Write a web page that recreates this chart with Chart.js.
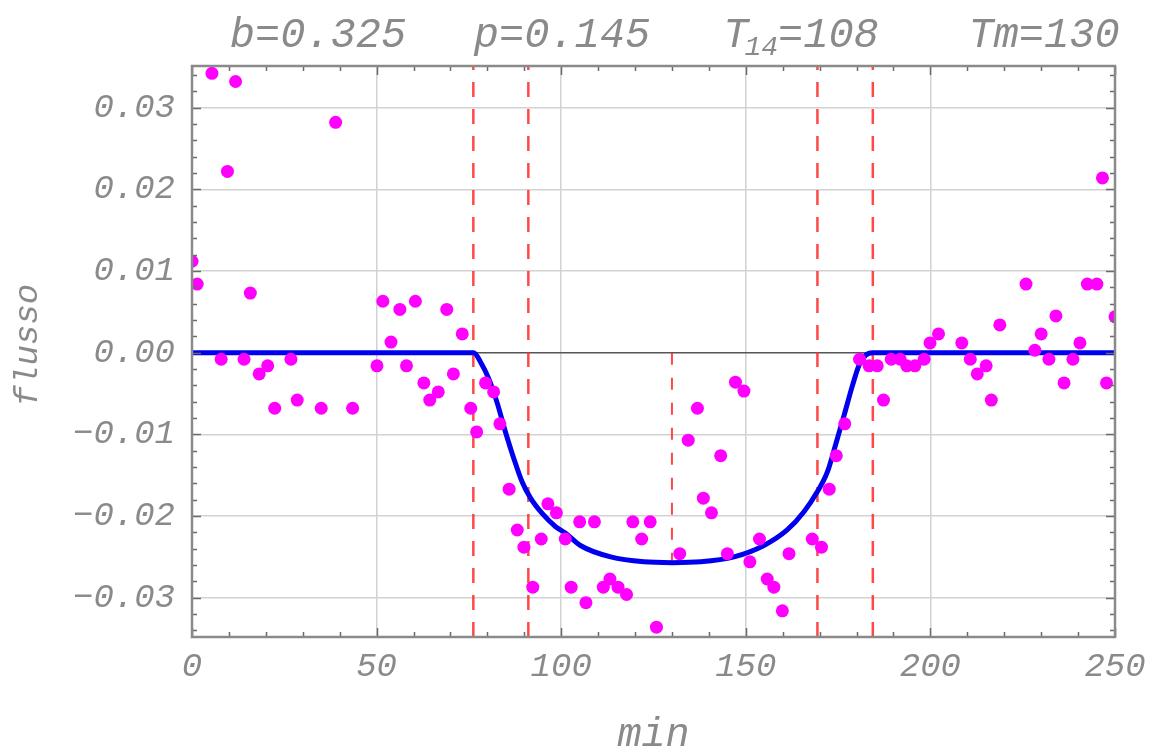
<!DOCTYPE html>
<html>
<head>
<meta charset="utf-8">
<script src="https://cdn.jsdelivr.net/npm/chart.js@4/dist/chart.umd.min.js"></script>
<style>
  html, body { margin: 0; padding: 0; background: #fff; }
  #wrap { width: 1150px; height: 749px; }
</style>
</head>
<body>
<div id="wrap"><canvas id="chart" width="1150" height="749"></canvas></div>
<script>
// observed flux points (minutes, relative flux)
const obsMin = [0.0, 1.4, 5.4, 7.9, 9.6, 11.8, 14.1, 15.8, 18.2, 20.5, 22.4, 26.8, 28.5, 35.0, 38.9, 43.5,
    50.1, 51.7, 53.9, 56.3, 58.1, 60.5, 62.8, 64.4, 66.7, 69.0, 70.8, 73.2, 75.5, 77.1, 79.5, 81.7,
    83.4, 85.9, 88.1, 89.9, 92.3, 94.6, 96.4, 98.7, 101.1, 102.7, 105.0, 106.7, 109.0, 111.4, 113.2,
    115.4, 117.7, 119.4, 121.8, 124.1, 125.8, 132.1, 134.4, 136.9, 138.5, 140.7, 143.2, 145.0, 147.2,
    149.5, 151.1, 153.7, 155.8, 157.6, 159.9, 161.7, 168.0, 170.5, 172.6, 174.5, 176.8, 180.8, 183.4,
    185.6, 187.3, 189.4, 191.8, 193.6, 195.8, 198.3, 199.9, 202.2, 208.5, 210.8, 212.7, 215.1, 216.5,
    218.8, 225.9, 228.3, 230.0, 232.1, 234.0, 236.2, 238.6, 240.5, 242.5, 245.1, 246.6, 247.7, 250.0];
const obsFlux = [0.0112, 0.0084, 0.0342, -0.0008, 0.0222, 0.0332, -0.0008, 0.0073, -0.0026, -0.0016,
    -0.0068, -0.0008, -0.0058, -0.0068, 0.0282, -0.0068,
    -0.0016, 0.0063, 0.0013, 0.0053, -0.0016, 0.0063, -0.0037, -0.0058, -0.0048, 0.0053, -0.0026,
    0.0023, -0.0068, -0.0097, -0.0037, -0.0048,
    -0.0087, -0.0167, -0.0217, -0.0238, -0.0287, -0.0228, -0.0185, -0.0196, -0.0228, -0.0287, -0.0207,
    -0.0306, -0.0207, -0.0287, -0.0277,
    -0.0287, -0.0296, -0.0207, -0.0228, -0.0207, -0.0336, -0.0246, -0.0107, -0.0068, -0.0178, -0.0196,
    -0.0126, -0.0246, -0.0036,
    -0.0047, -0.0256, -0.0228, -0.0277, -0.0287, -0.0316, -0.0246, -0.0228, -0.0238, -0.0167, -0.0126,
    -0.0087, -0.0008, -0.0016,
    -0.0016, -0.0058, -0.0008, -0.0008, -0.0016, -0.0016, -0.0008, 0.0012, 0.0023, 0.0012, -0.0008,
    -0.0026, -0.0016, -0.0058,
    0.0034, 0.0084, 0.0003, 0.0023, -0.0008, 0.0045, -0.0037, -0.0008, 0.0012, 0.0084, 0.0084, 0.0214,
    -0.0037, 0.0044];

// model curve
const modelMin = [0, 76.3, 78.1, 80.4, 82.7, 84.9, 87.2, 89.4, 91.7, 94.9, 98.5, 101.2, 105.2, 113.4,
    122.4, 130.1, 137.8, 146.8, 154.9, 161.2, 165.7, 169.4, 172.1, 174.3, 176.6, 178.9, 180.7, 182.5,
    184.3, 250];
const modelFlux = [0, 0, -0.0011, -0.0032, -0.0062, -0.0097, -0.0130, -0.0158, -0.0178, -0.0197,
    -0.0213, -0.0221, -0.0236, -0.0250, -0.0256, -0.0257, -0.0256, -0.0250, -0.0236, -0.0217, -0.0195,
    -0.0170, -0.0146, -0.0113, -0.0077, -0.0040, -0.0015, -0.0003, 0, 0];

// contact times and mid transit
const contactTimes = [76.2, 91.1, 169.4, 184.4];
const midTransit = 130;

const xTicks = [0, 50, 100, 150, 200, 250];
const yTicks = [-0.03, -0.02, -0.01, 0, 0.01, 0.02, 0.03];
const xRange = [0, 250];
const yRange = [-0.0348, 0.0351];
const xMinorStep = 10;
const yMinorStep = 0.002;

const headerLabels = [
    { text: 'b=0.325' },
    { text: 'p=0.145' },
    { text: 'T', sub: '14', rest: '=108' },
    { text: 'Tm=130' }
];
const headerCenters = [318, 562, 803, 1044];

const FONT = '"Liberation Mono", "DejaVu Sans Mono", monospace';
const TEXT_GREY = '#8a8a8a';

const formatFlux = v => {
    const s = Math.abs(v).toFixed(2);
    return v < 0 ? '\u2212' + s : s;
};

/**
 * Frame, inner tick marks, axis titles and the header line
 */
const decorPlugin = {
    id: 'decor',
    afterDatasetsDraw(chart) {
        const { ctx, chartArea: a, scales: { x, y } } = chart;
        ctx.save();

        // inward ticks on all four sides
        ctx.strokeStyle = '#6a6a6a';
        ctx.lineWidth = 1.5;
        ctx.beginPath();
        for (let v = xRange[0]; v <= xRange[1] + 1e-9; v += xMinorStep) {
            const px = Math.round(x.getPixelForValue(v)) + 0.5;
            const len = xTicks.includes(Math.round(v)) ? 9 : 5;
            ctx.moveTo(px, a.bottom); ctx.lineTo(px, a.bottom - len);
            ctx.moveTo(px, a.top); ctx.lineTo(px, a.top + len);
        }
        const yStart = Math.ceil(yRange[0] / yMinorStep) * yMinorStep;
        for (let v = yStart; v <= yRange[1] + 1e-9; v += yMinorStep) {
            const py = Math.round(y.getPixelForValue(v)) + 0.5;
            const isMajor = yTicks.some(t => Math.abs(t - v) < 1e-6);
            const len = isMajor ? 9 : 5;
            ctx.moveTo(a.left, py); ctx.lineTo(a.left + len, py);
            ctx.moveTo(a.right, py); ctx.lineTo(a.right - len, py);
        }
        ctx.stroke();

        // frame
        ctx.strokeStyle = '#8a8a8a';
        ctx.lineWidth = 2.5;
        ctx.strokeRect(a.left, a.top, a.right - a.left, a.bottom - a.top);

        // axis titles
        ctx.fillStyle = TEXT_GREY;
        ctx.font = 'italic 40px ' + FONT;
        ctx.textAlign = 'center';
        ctx.textBaseline = 'middle';
        ctx.fillText('min', (a.left + a.right) / 2, 735);

        ctx.save();
        ctx.translate(28, 345);
        ctx.rotate(-Math.PI / 2);
        ctx.font = 'italic 34px ' + FONT;
        ctx.fillText('flusso', 0, 0);
        ctx.restore();

        // header values
        headerLabels.forEach((lab, i) => {
            const big = 'italic 42px ' + FONT;
            const small = 'italic 28px ' + FONT;
            ctx.font = big;
            const w1 = ctx.measureText(lab.text).width;
            let w2 = 0, w3 = 0;
            if (lab.sub) {
                ctx.font = small;
                w2 = ctx.measureText(lab.sub).width;
                ctx.font = big;
                w3 = ctx.measureText(lab.rest).width;
            }
            let cx = headerCenters[i] - (w1 + w2 + w3) / 2;
            ctx.textAlign = 'left';
            ctx.textBaseline = 'alphabetic';
            ctx.font = big;
            ctx.fillText(lab.text, cx, 47);
            if (lab.sub) {
                cx += w1;
                ctx.font = small;
                ctx.fillText(lab.sub, cx - 4, 55);
                cx += w2;
                ctx.font = big;
                ctx.fillText(lab.rest, cx - 4, 47);
            }
        });

        ctx.restore();
    }
};

const points = obsMin.map((m, i) => ({ x: m, y: obsFlux[i] }));
const model = modelMin.map((m, i) => ({ x: m, y: modelFlux[i] }));

const datasets = [
    {
        label: 'dati',
        type: 'scatter',
        data: points,
        backgroundColor: '#ff00ff',
        borderWidth: 0,
        pointRadius: 6.5,
        pointHoverRadius: 6.5,
        clip: 0,
        order: 0
    },
    {
        label: 'modello',
        type: 'line',
        data: model,
        borderColor: '#0000ee',
        borderWidth: 5,
        pointRadius: 0,
        cubicInterpolationMode: 'monotone',
        clip: 0,
        order: 1
    }
];

contactTimes.forEach(c => {
    datasets.push({
        type: 'line',
        data: [{ x: c, y: yRange[0] }, { x: c, y: yRange[1] }],
        borderColor: 'rgba(255, 40, 40, 0.85)',
        borderWidth: 2.5,
        borderDash: [15, 12],
        pointRadius: 0,
        clip: 0,
        order: 2
    });
});

datasets.push({
    type: 'line',
    data: [{ x: midTransit, y: 0 }, { x: midTransit, y: Math.min(...modelFlux) }],
    borderColor: 'rgba(255, 40, 40, 0.85)',
    borderWidth: 2,
    borderDash: [12, 13],
    pointRadius: 0,
    clip: 0,
    order: 2
});

new Chart(document.getElementById('chart'), {
    type: 'scatter',
    data: { datasets },
    options: {
        responsive: false,
        animation: false,
        devicePixelRatio: 1,
        layout: { padding: { left: 0, top: 66, right: 35, bottom: 0 } },
        plugins: {
            legend: { display: false },
            tooltip: { enabled: false },
            title: { display: false }
        },
        scales: {
            x: {
                type: 'linear',
                min: xRange[0],
                max: xRange[1],
                afterBuildTicks: s => { s.ticks = xTicks.map(v => ({ value: v })); },
                afterFit: s => { s.height = 112; s.paddingLeft = 0; s.paddingRight = 0; },
                border: { display: false },
                grid: { color: '#d2d2d2', lineWidth: 1.5, drawTicks: false },
                ticks: {
                    padding: 10,
                    color: TEXT_GREY,
                    maxRotation: 0,
                    font: { family: FONT, style: 'italic', size: 34 },
                    callback: v => String(v)
                }
            },
            y: {
                type: 'linear',
                min: yRange[0],
                max: yRange[1],
                afterBuildTicks: s => { s.ticks = yTicks.map(v => ({ value: v })); },
                afterFit: s => { s.width = 192; s.paddingTop = 0; s.paddingBottom = 0; },
                border: { display: false },
                grid: {
                    color: c => (c.tick && c.tick.value === 0 ? '#555555' : '#d2d2d2'),
                    lineWidth: 1.5,
                    drawTicks: false
                },
                ticks: {
                    padding: 17,
                    color: TEXT_GREY,
                    font: { family: FONT, style: 'italic', size: 34 },
                    callback: v => formatFlux(v)
                }
            }
        }
    },
    plugins: [decorPlugin]
});
</script>
</body>
</html>
